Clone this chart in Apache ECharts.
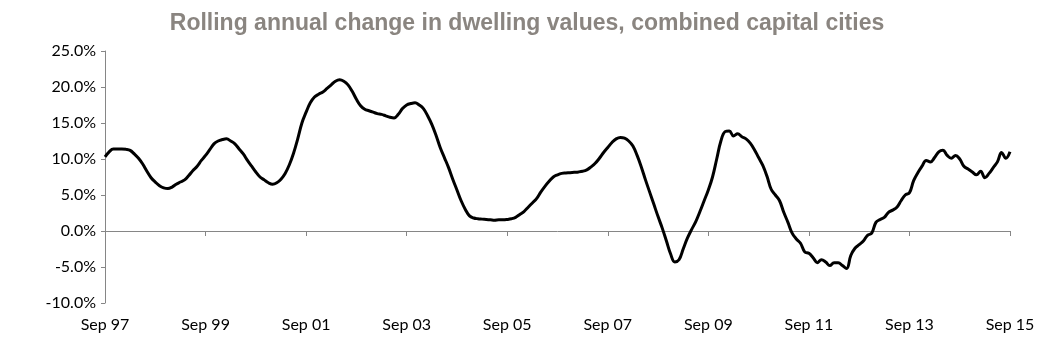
<!DOCTYPE html>
<html style="height: 100%">
<head>
  <meta charset="utf-8">
</head>
<body style="height: 100%; margin: 0; background: #ffffff">
  <div id="container" style="width: 1054px; height: 352px"></div>
  <script type="text/javascript" src="https://cdn.jsdelivr.net/npm/echarts@6/dist/echarts.min.js"></script>
  <script type="text/javascript">
    // rolling annual change, monthly from Sep 97 to Sep 15 (%)
    var changeValues = [
      10.3, 11.0, 11.4, 11.4, 11.4, 11.35, 11.2, 10.7, 10.1, 9.3, 8.3, 7.4,
      6.8, 6.3, 6.0, 5.9, 6.1, 6.5, 6.8, 7.1, 7.7, 8.4, 9.0, 9.8,
      10.5, 11.3, 12.1, 12.5, 12.7, 12.8, 12.5, 12.1, 11.4, 10.7, 9.8, 9.0,
      8.2, 7.5, 7.1, 6.7, 6.5, 6.7, 7.2, 8.0, 9.2, 10.8, 12.8, 15.0,
      16.5, 17.8, 18.6, 19.0, 19.3, 19.8, 20.3, 20.8, 21.0, 20.8, 20.3, 19.4,
      18.3, 17.4, 16.9, 16.7, 16.5, 16.3, 16.2, 16.0, 15.8, 15.7, 16.2, 17.0,
      17.5, 17.7, 17.8, 17.5, 17.0, 16.0, 14.8, 13.3, 11.6, 10.2, 8.8, 7.2,
      5.7, 4.2, 3.0, 2.1, 1.8, 1.7, 1.65, 1.6, 1.55, 1.5, 1.55, 1.55,
      1.6, 1.7, 1.9, 2.3, 2.7, 3.3, 3.9, 4.5, 5.4, 6.2, 6.9, 7.5,
      7.8, 8.0, 8.05, 8.1, 8.15, 8.2, 8.3, 8.5, 8.9, 9.4, 10.1, 10.9,
      11.6, 12.3, 12.8, 13.0, 12.9, 12.5, 11.8, 10.5, 8.9, 7.1, 5.4, 3.7,
      2.0, 0.4, -1.4, -3.2, -4.3, -4.0, -2.5, -1.0, 0.2, 1.3, 2.7, 4.2,
      5.7, 7.5, 10.0, 12.5, 13.8, 13.9, 13.2, 13.5, 13.1, 12.8, 12.2, 11.3,
      10.2, 9.1, 7.6, 5.8, 5.0, 4.2, 2.6, 1.2, -0.3, -1.1, -1.7, -2.9,
      -3.1, -3.7, -4.4, -4.0, -4.3, -4.8, -4.4, -4.4, -4.8, -5.2, -3.4, -2.4,
      -1.9, -1.4, -0.6, -0.3, 1.2, 1.6, 1.9, 2.6, 2.9, 3.3, 4.2, 5.0,
      5.3, 7.0, 8.1, 9.0, 9.8, 9.6, 10.2, 11.0, 11.2, 10.5, 10.1, 10.5,
      10.0, 9.0, 8.6, 8.2, 7.8, 8.3, 7.4, 8.0, 8.8, 9.6, 10.9, 10.1,
      11.0
    ];

    var monthNames = ['Jan', 'Feb', 'Mar', 'Apr', 'May', 'Jun', 'Jul', 'Aug', 'Sep', 'Oct', 'Nov', 'Dec'];
    var startYear = 1997;
    var startMonth = 8; // Sep

    var monthLabels = [];
    for (var i = 0; i < changeValues.length; i++) {
      var mi = startMonth + i;
      var yr = (startYear + Math.floor(mi / 12)) % 100;
      monthLabels.push(monthNames[mi % 12] + ' ' + (yr < 10 ? '0' + yr : '' + yr));
    }

    var yMin = -10, yMax = 25, yStep = 5;

    var myChart = echarts.init(document.getElementById('container'));

    var option = {
      animation: false,
      title: {
        text: 'Rolling annual change in dwelling values, combined capital cities',
        left: 'center',
        top: 7,
        textStyle: {
          fontFamily: 'Liberation Sans',
          fontSize: 23,
          fontWeight: 'bold',
          color: '#8a8580'
        }
      },
      grid: {
        left: 105,
        right: 44,
        top: 51,
        bottom: 49
      },
      xAxis: [
        {
          type: 'category',
          data: monthLabels,
          boundaryGap: false,
          axisLine: { onZero: true, lineStyle: { color: '#868686', width: 1 } },
          axisTick: { show: true, interval: 23, length: 5, lineStyle: { color: '#868686' } },
          axisLabel: { show: false }
        },
        {
          type: 'category',
          data: monthLabels,
          boundaryGap: false,
          position: 'bottom',
          axisLine: { show: false, onZero: false },
          axisTick: { show: false },
          axisLabel: {
            interval: 23,
            margin: 14,
            fontFamily: 'Lato',
            fontSize: 16,
            color: '#000000'
          }
        }
      ],
      yAxis: {
        type: 'value',
        min: yMin,
        max: yMax,
        interval: yStep,
        splitLine: { show: false },
        axisLine: { show: true, lineStyle: { color: '#868686', width: 1 } },
        axisTick: { show: true, length: 4, lineStyle: { color: '#868686' } },
        axisLabel: {
          margin: 9,
          fontFamily: 'Lato',
          fontSize: 16,
          color: '#000000',
          formatter: function (v) { return v.toFixed(1) + '%'; }
        }
      },
      series: [
        {
          type: 'line',
          xAxisIndex: 0,
          data: changeValues,
          smooth: 0.4,
          symbol: 'none',
          lineStyle: { color: '#000000', width: 3 }
        }
      ]
    };

    myChart.setOption(option);
  </script>
</body>
</html>
